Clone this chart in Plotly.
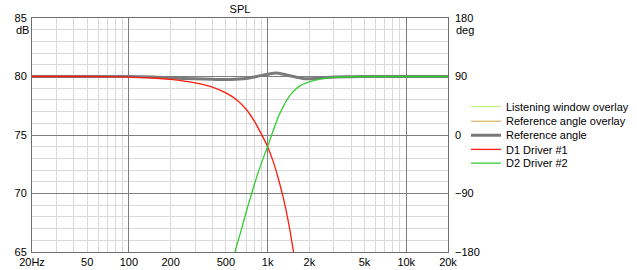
import plotly.graph_objects as go

# ---- data ----
d1_freq = [20, 50, 100, 150, 200, 300, 400, 500, 600, 700, 800, 900, 1000, 1100, 1200, 1300, 1400, 1500, 1600, 1700]
d1_spl = [80.0, 80.0, 79.95, 79.87, 79.75, 79.45, 79.1, 78.6, 78.0, 77.2, 76.2, 75.1, 74.0, 72.7, 71.2, 69.6, 67.8, 65.8, 63.6, 61.2]

d2_freq = [500, 540, 582, 650, 700, 767, 850, 950, 1000, 1100, 1200, 1300, 1370, 1500, 1710, 2000, 2500, 3000, 4000, 5000, 10000, 20000]
d2_spl = [61.6, 63.3, 65.0, 67.0, 68.4, 70.0, 71.7, 73.3, 74.0, 75.4, 76.6, 77.45, 77.95, 78.6, 79.2, 79.55, 79.82, 79.92, 79.98, 80.0, 80.0, 80.0]

ref_freq = [20, 50, 100, 150, 200, 300, 400, 536, 700, 834, 1000, 1150, 1350, 1620, 1890, 2300, 2830, 4000, 5000, 10000, 20000]
ref_spl = [80.0, 80.0, 80.0, 79.95, 79.88, 79.8, 79.76, 79.74, 79.82, 80.0, 80.2, 80.3, 80.15, 79.94, 79.8, 79.85, 79.94, 79.98, 80.0, 80.0, 80.0]

x_tick_vals = [20, 50, 100, 200, 500, 1000, 2000, 5000, 10000, 20000]
x_tick_text = ["20Hz", "50", "100", "200", "500", "1k", "2k", "5k", "10k", "20k"]
x_minor_grid = [30, 40, 50, 60, 70, 80, 90, 200, 300, 400, 500, 600, 700, 800, 900,
                2000, 3000, 4000, 5000, 6000, 7000, 8000, 9000]
x_major_grid = [100, 1000, 10000]
y_left_ticks = [65, 70, 75, 80, 85]
y_right_ticks = [-180, -90, 0, 90, 180]

legend_names = ["Listening window overlay", "Reference angle overlay", "Reference angle",
                "D1 Driver #1", "D2 Driver #2"]

# ---- styling ----
FONT = "Liberation Sans"
FS = 11
RED = "rgb(255,28,10)"
GREEN = "rgb(50,205,50)"
GRAY = "rgb(122,122,122)"
LIGHT_GRID = "rgb(218,218,218)"
DARK_GRID = "rgb(125,125,125)"
FRAME = "rgb(110,110,110)"

L, R, T, B = 32, 189, 18, 18
W, H = 637, 270
PW, PH = W - L - R, H - T - B


def px_to_paper_x(px):
    return (px - L) / PW


def px_to_paper_y(py):
    return (H - B - py) / PH


fig = go.Figure()

# legend-only overlay traces (no visible data); they also anchor the overlay axes
fig.add_trace(go.Scatter(x=[None], y=[None], mode="lines", name=legend_names[0],
                         line=dict(color="rgb(180,240,90)", width=1), legend="legend",
                         xaxis="x2", yaxis="y"))
fig.add_trace(go.Scatter(x=[None], y=[None], mode="lines", name=legend_names[1],
                         line=dict(color="rgb(215,160,70)", width=1), legend="legend2",
                         xaxis="x", yaxis="y2"))
fig.add_trace(go.Scatter(x=ref_freq, y=ref_spl, mode="lines", name=legend_names[2],
                         line=dict(color=GRAY, width=3, shape="spline", smoothing=0.8),
                         legend="legend3"))
fig.add_trace(go.Scatter(x=d1_freq, y=d1_spl, mode="lines", name=legend_names[3],
                         line=dict(color=RED, width=1.3, shape="spline", smoothing=0.8),
                         legend="legend4"))
fig.add_trace(go.Scatter(x=d2_freq, y=d2_spl, mode="lines", name=legend_names[4],
                         line=dict(color=GREEN, width=1.3, shape="spline", smoothing=0.8),
                         legend="legend5"))

legend_y_px = [106.7, 121.2, 135.2, 149.4, 163.2]
legend_keys = ["legend", "legend2", "legend3", "legend4", "legend5"]
legend_layout = {}
for key, ypx in zip(legend_keys, legend_y_px):
    legend_layout[key] = dict(
        xref="container", yref="container",
        x=466 / W, y=1 - ypx / H, xanchor="left", yanchor="middle",
        bgcolor="rgba(0,0,0,0)", borderwidth=0, font=dict(family=FONT, size=FS, color="black"),
        itemclick=False, itemdoubleclick=False,
    )

fig.update_layout(
    width=W, height=H,
    margin=dict(l=L, r=R, t=T, b=B, pad=0, autoexpand=False),
    paper_bgcolor="white", plot_bgcolor="white",
    font=dict(family=FONT, size=FS, color="black"),
    showlegend=True,
    title=dict(text="SPL", x=0.5, xref="paper", xanchor="center",
               y=1 - 9.5 / H, yref="container", yanchor="middle",
               font=dict(family=FONT, size=FS, color="black")),
    xaxis=dict(
        type="log", range=[1.30103, 4.30103], tickmode="array",
        tickvals=x_tick_vals, ticktext=x_tick_text, showgrid=False, ticks="",
        showline=True, mirror=True, linecolor=FRAME, linewidth=1, zeroline=False,
        minor=dict(tickmode="array", tickvals=x_minor_grid, showgrid=True,
                   gridcolor=LIGHT_GRID, gridwidth=1, ticks=""),
        tickfont=dict(family=FONT, size=FS, color="black"),
        automargin=False, fixedrange=True,
    ),
    xaxis2=dict(
        type="log", range=[1.30103, 4.30103], overlaying="x", anchor="y",
        tickmode="array", tickvals=x_major_grid, showticklabels=False, ticks="",
        showgrid=True, gridcolor=DARK_GRID, gridwidth=1, showline=False, zeroline=False,
        automargin=False, fixedrange=True,
    ),
    yaxis=dict(
        range=[65, 85], tickmode="array", tickvals=y_left_ticks, ticks="",
        showgrid=True, gridcolor=DARK_GRID, gridwidth=1, zeroline=False,
        showline=True, mirror=True, linecolor=FRAME, linewidth=1,
        minor=dict(dtick=1, showgrid=True, gridcolor=LIGHT_GRID, gridwidth=1, ticks=""),
        tickfont=dict(family=FONT, size=FS, color="black"),
        ticklabelstandoff=2,
        automargin=False, fixedrange=True,
    ),
    yaxis2=dict(
        range=[-180, 180], overlaying="y", side="right", anchor="x",
        tickmode="array", tickvals=y_right_ticks, ticks="", showgrid=False, zeroline=False,
        showline=False, tickfont=dict(family=FONT, size=FS, color="black"),
        ticklabelstandoff=6,
        automargin=False, fixedrange=True,
    ),
    annotations=[
        dict(text="dB", xref="paper", yref="paper", x=px_to_paper_x(29.5), y=px_to_paper_y(29.5),
             xanchor="right", yanchor="middle", showarrow=False, borderpad=0,
             font=dict(family=FONT, size=FS, color="black")),
        dict(text="deg", xref="paper", yref="paper", x=px_to_paper_x(455), y=px_to_paper_y(29.5),
             xanchor="left", yanchor="middle", showarrow=False, borderpad=0,
             font=dict(family=FONT, size=FS, color="black")),
    ],
    **legend_layout,
)

fig.write_html("out.html")
